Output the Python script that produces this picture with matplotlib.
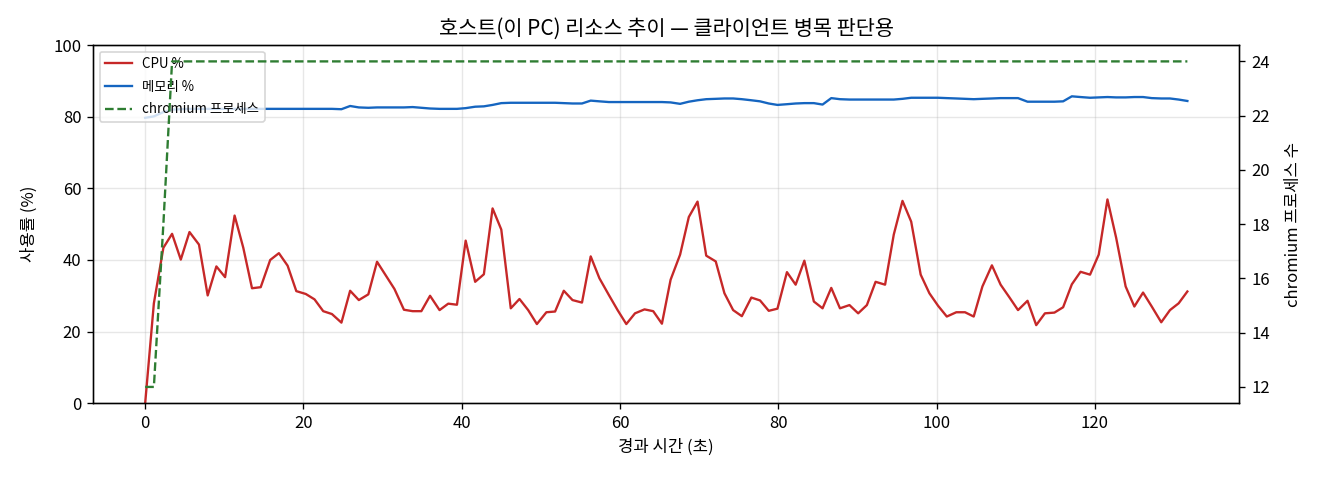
import matplotlib
matplotlib.use("Agg")
import matplotlib.pyplot as plt

plt.rcParams['font.family'] = ['Noto Sans CJK KR', 'DejaVu Sans']

# 경과 시간 (초)
elapsed = [0.0, 1.1, 2.3, 3.4, 4.5, 5.6, 6.8, 7.9, 9.0, 10.1,
           11.3, 12.4, 13.5, 14.6, 15.8, 16.9, 18.0, 19.1, 20.3, 21.4,
           22.5, 23.6, 24.8, 25.9, 27.0, 28.2, 29.3, 30.4, 31.5, 32.7,
           33.8, 34.9, 36.0, 37.2, 38.3, 39.4, 40.5, 41.7, 42.8, 43.9,
           45.0, 46.2, 47.3, 48.4, 49.5, 50.7, 51.8, 52.9, 54.0, 55.2,
           56.3, 57.4, 58.6, 59.7, 60.8, 61.9, 63.1, 64.2, 65.3, 66.4,
           67.6, 68.7, 69.8, 70.9, 72.1, 73.2, 74.3, 75.4, 76.6, 77.7,
           78.8, 79.9, 81.1, 82.2, 83.3, 84.5, 85.6, 86.7, 87.8, 89.0,
           90.1, 91.2, 92.3, 93.5, 94.6, 95.7, 96.8, 98.0, 99.1, 100.2,
           101.3, 102.5, 103.6, 104.7, 105.8, 107.0, 108.1, 109.2, 110.3, 111.5,
           112.6, 113.7, 114.9, 116.0, 117.1, 118.2, 119.4, 120.5, 121.6, 122.7,
           123.9, 125.0, 126.1, 127.2, 128.4, 129.5, 130.6, 131.7]

cpu = [0.0, 27.9, 43.4, 47.3, 40.1, 47.8, 44.3, 30.1, 38.2, 35.2,
       52.4, 43.4, 32.1, 32.4, 40.0, 41.9, 38.4, 31.3, 30.5, 29.0,
       25.7, 24.9, 22.5, 31.4, 28.8, 30.4, 39.5, 35.7, 31.9, 26.1,
       25.7, 25.7, 30.0, 26.0, 27.8, 27.5, 45.4, 33.9, 36.0, 54.4,
       48.5, 26.5, 29.1, 26.0, 22.1, 25.4, 25.6, 31.4, 28.8, 28.1,
       41.0, 34.9, 30.2, 26.0, 22.1, 25.1, 26.2, 25.7, 22.2, 34.5,
       41.5, 52.0, 56.3, 41.2, 39.6, 30.7, 26.0, 24.3, 29.5, 28.7,
       25.8, 26.4, 36.6, 33.1, 39.8, 28.4, 26.5, 32.2, 26.5, 27.4,
       25.1, 27.4, 33.9, 33.1, 47.1, 56.5, 50.7, 35.9, 30.7, 27.2,
       24.2, 25.4, 25.4, 24.2, 32.6, 38.5, 33.1, 29.6, 26.0, 28.6,
       21.8, 25.1, 25.3, 26.8, 33.2, 36.7, 35.9, 41.5, 56.9, 46.2,
       32.6, 27.0, 30.9, 27.0, 22.6, 26.0, 27.9, 31.2]

memory = [79.7, 80.1, 81.3, 82.0, 82.1, 82.2, 82.2, 82.2, 82.2, 82.2,
          82.2, 82.2, 82.2, 82.2, 82.2, 82.2, 82.2, 82.2, 82.2, 82.2,
          82.2, 82.2, 82.1, 83.0, 82.6, 82.5, 82.6, 82.6, 82.6, 82.6,
          82.7, 82.5, 82.3, 82.2, 82.2, 82.2, 82.4, 82.8, 82.9, 83.3,
          83.8, 83.9, 83.9, 83.9, 83.9, 83.9, 83.9, 83.8, 83.7, 83.7,
          84.5, 84.3, 84.1, 84.1, 84.1, 84.1, 84.1, 84.1, 84.1, 84.0,
          83.6, 84.2, 84.6, 84.9, 85.0, 85.1, 85.1, 84.9, 84.6, 84.3,
          83.7, 83.3, 83.5, 83.7, 83.8, 83.8, 83.4, 85.2, 84.9, 84.8,
          84.8, 84.8, 84.8, 84.8, 84.8, 85.0, 85.3, 85.3, 85.3, 85.3,
          85.2, 85.1, 85.0, 84.9, 85.0, 85.1, 85.2, 85.2, 85.2, 84.2,
          84.2, 84.2, 84.2, 84.3, 85.7, 85.5, 85.3, 85.4, 85.5, 85.4,
          85.4, 85.5, 85.5, 85.2, 85.1, 85.1, 84.8, 84.4]

chromium = [12, 12, 18] + [24] * 115

fig, ax = plt.subplots(figsize=(11, 4), dpi=120)
fig.subplots_adjust(left=0.0705, right=0.939, top=0.906, bottom=0.16)

l1, = ax.plot(elapsed, cpu, color='#c62828', lw=1.4, label='CPU %')
l2, = ax.plot(elapsed, memory, color='#1565c0', lw=1.4, label='메모리 %')
ax.set_ylim(0, 100)
ax.set_xlabel('경과 시간 (초)')
ax.set_ylabel('사용률 (%)', labelpad=9)
ax.grid(True, alpha=0.3)

ax2 = ax.twinx()
l3, = ax2.plot(elapsed, chromium, color='#2e7d32', lw=1.4, ls='--', label='chromium 프로세스')
ax2.set_ylabel('chromium 프로세스 수', labelpad=9)

ax.legend(handles=[l1, l2, l3], loc='upper left', fontsize=8, labelspacing=0.65)
ax.set_title('호스트(이 PC) 리소스 추이 — 클라이언트 병목 판단용', fontsize=12.5)

fig.savefig('out.png', dpi=120)
